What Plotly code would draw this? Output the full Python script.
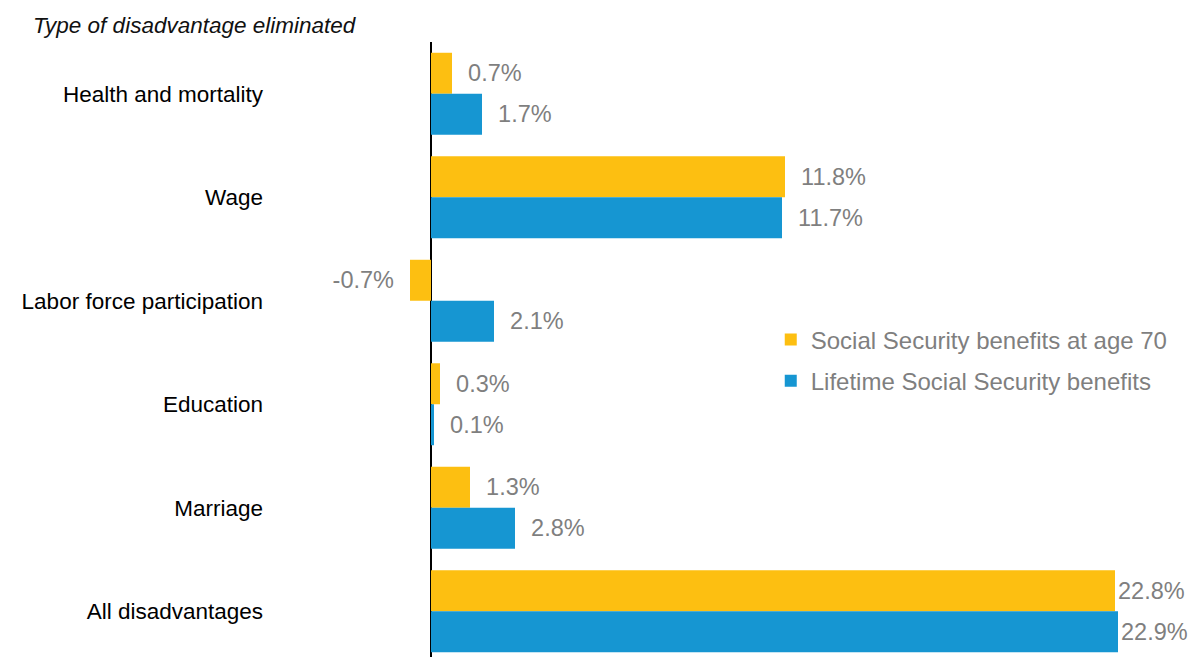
import plotly.graph_objects as go

# Simulated reduction in the benefit gap when each disadvantage is eliminated
categories = [
    "Health and mortality",
    "Wage",
    "Labor force participation",
    "Education",
    "Marriage",
    "All disadvantages",
]
age70_benefits = [0.7, 11.8, -0.7, 0.3, 1.3, 22.8]
lifetime_benefits = [1.7, 11.7, 2.1, 0.1, 2.8, 22.9]
series_names = ["Social Security benefits at age 70", "Lifetime Social Security benefits"]

YELLOW = "#FDBF11"
BLUE = "#1696D2"
GREY = "#7f7f7f"
FONT = "Liberation Sans, Arial, sans-serif"
PAD = "\u00a0\u00a0"


def bar_text(values):
    out = []
    for i, v in enumerate(values):
        label = f"{v:.1f}%"
        if i == len(values) - 1:
            out.append(label)
        elif v < 0:
            out.append(label + PAD)
        else:
            out.append(PAD + label)
    return out


fig = go.Figure()
for name, vals, color in [
    (series_names[0], age70_benefits, YELLOW),
    (series_names[1], lifetime_benefits, BLUE),
]:
    fig.add_trace(go.Bar(
        name=name,
        legendgroup=name,
        y=categories,
        x=vals,
        orientation="h",
        marker=dict(color=color, line=dict(width=0)),
        text=bar_text(vals),
        textposition="outside",
        textfont=dict(family=FONT, size=23.5, color=GREY),
        constraintext="none",
        cliponaxis=False,
    ))

fig.update_layout(
    width=1188,
    height=657,
    margin=dict(l=380, r=58, t=42, b=0),
    paper_bgcolor="white",
    plot_bgcolor="white",
    barmode="group",
    bargap=0.208,
    bargroupgap=0,
    title=dict(
        text="Type of disadvantage eliminated",
        font=dict(family=FONT, size=22.5, color="#111111", style="italic"),
        xref="container", x=33 / 1188, xanchor="left",
        yref="container", y=1 - 25 / 657, yanchor="middle",
    ),
    legend=dict(
        x=0.521, y=0.552, xanchor="left", yanchor="top",
        font=dict(family=FONT, size=24, color=GREY),
        bgcolor="rgba(0,0,0,0)",
        traceorder="grouped",
        tracegroupgap=7,
    ),
    xaxis=dict(
        range=[-1.7, 23.3],
        showgrid=False,
        showticklabels=False,
        ticks="",
        zeroline=True,
        zerolinecolor="black",
        zerolinewidth=2,
        showline=False,
    ),
    yaxis=dict(
        range=[5.442, -0.5],
        showgrid=False,
        ticks="",
        showline=False,
        tickfont=dict(family=FONT, size=22.5, color="black"),
        ticklabelstandoff=116,
    ),
)

fig.write_html("out.html")
